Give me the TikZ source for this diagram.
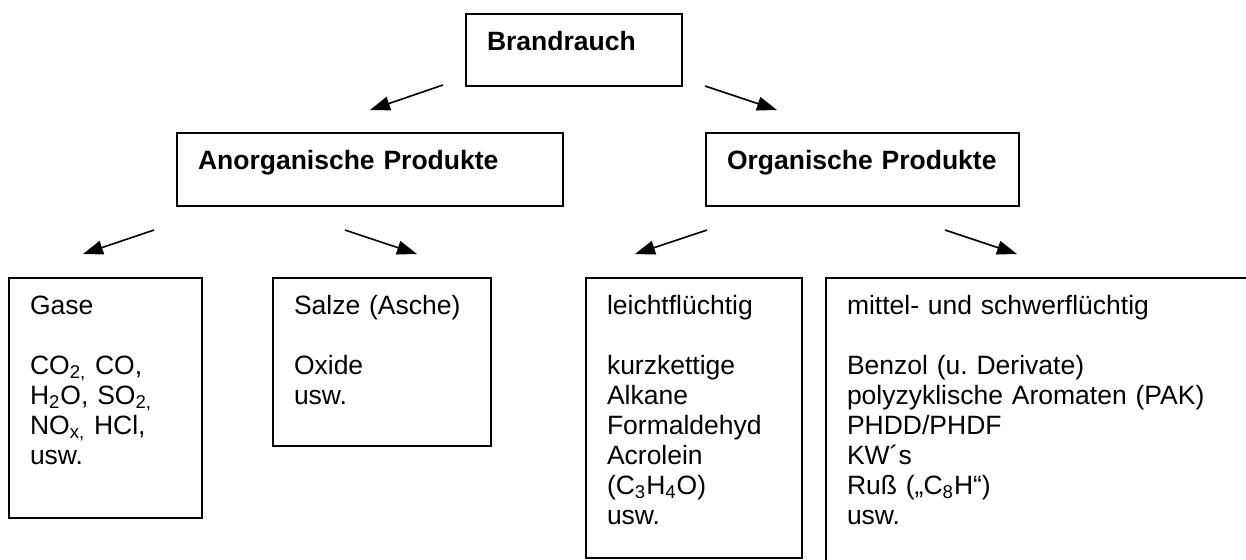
\documentclass[tikz,border=0pt]{standalone}
\usepackage{fontspec}
\setmainfont{Liberation Sans}
\usetikzlibrary{arrows.meta}
\frenchspacing

\begin{document}
\begin{tikzpicture}[
  x=0.5pt,y=-0.5pt,
  font=\fontsize{13.25pt}{15pt}\selectfont,
  box/.style={draw,line width=1pt,anchor=north west,outer sep=0pt,inner xsep=10.5pt,inner ysep=0pt,align=left,text height=18pt},
  head/.style={box,font=\fontsize{13.25pt}{15pt}\selectfont\bfseries},
  arr/.style={-{Triangle[length=10pt,width=7pt]},line width=0.8pt}
]
\useasboundingbox (0,0) rectangle (1246,559);
\clip (0,0) rectangle (1246,559);

\node[head,text width=87pt,text depth=18pt] (rauch) at (466,14) {Brandrauch};
\node[head,text width=172pt,text depth=18.5pt] (anorg) at (177,133) {Anorganische~Produkte};
\node[head,text width=135.5pt,text depth=18.5pt] (org) at (706,133) {Organische~Produkte};

\node[box,text width=75.5pt,text depth=102pt] (gase) at (9,278)
  {Gase\\[15pt]CO\textsubscript{2,} CO,\\H\textsubscript{2}O, SO\textsubscript{2,}\\NO\textsubscript{x,} HCl,\\usw.};
\node[box,text width=88pt,text depth=66pt] (salze) at (273,278)
  {Salze (Asche)\\[15pt]Oxide\\usw.};
\node[box,text width=87pt,text depth=122pt] (leicht) at (586,278)
  {leichtflüchtig\\[15pt]kurzkettige\\Alkane\\Formaldehyd\\Acrolein\\(C\textsubscript{3}H\textsubscript{4}O)\\usw.};
\node[box,text width=229pt,text depth=142pt] (schwer) at (826,278)
  {mittel- und schwerflüchtig\\[15pt]Benzol (u. Derivate)\\polyzyklische Aromaten (PAK)\\PHDD/PHDF\\KW´s\\Ruß („C\textsubscript{8}H“)\\usw.};

\draw[arr] ([shift={(-23,-1)}]rauch.south west) -- ([shift={(193,-23)}]anorg.north west);
\draw[arr] ([shift={(23,0)}]rauch.south east) -- ([shift={(71,-23)}]org.north west);
\draw[arr] ([shift={(-23,24)}]anorg.south west) -- ([shift={(74,-24)}]gase.north west);
\draw[arr] ([shift={(168,24)}]anorg.south west) -- ([shift={(144,-24)}]salze.north west);
\draw[arr] ([shift={(1,24)}]org.south west) -- ([shift={(49,-24)}]leicht.north west);
\draw[arr] ([shift={(239,24)}]org.south west) -- ([shift={(191,-24)}]schwer.north west);
\end{tikzpicture}
\end{document}
